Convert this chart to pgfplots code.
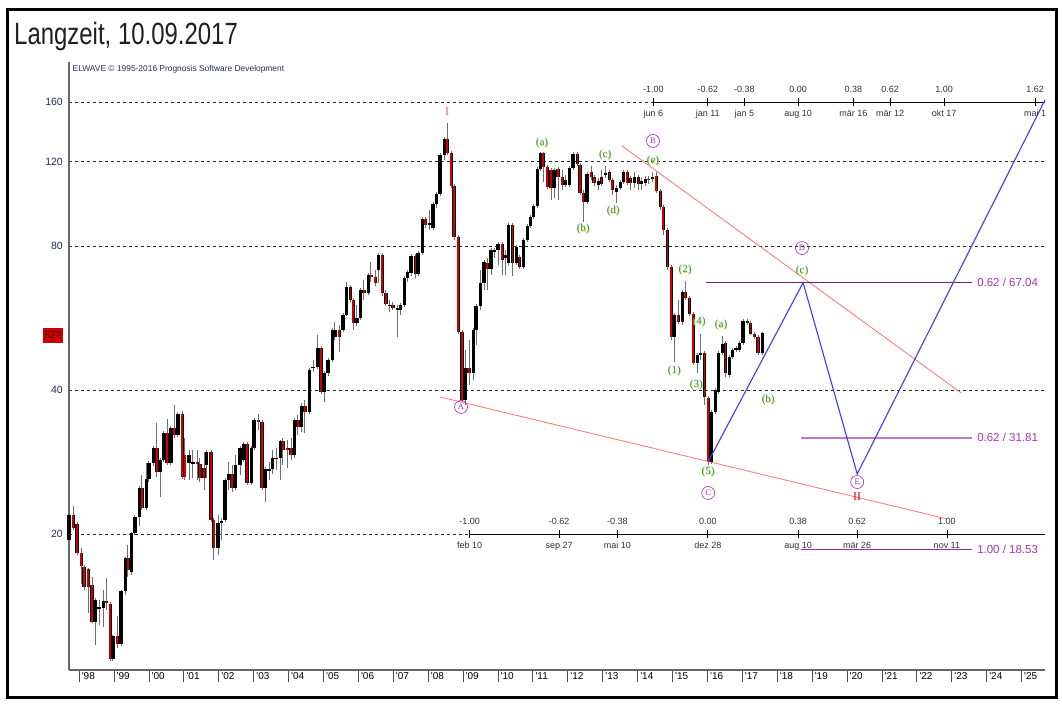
\documentclass[border=0pt]{standalone}
\usepackage{fontspec}
\setmainfont{Liberation Sans}
\setsansfont{Liberation Sans}
\newfontfamily\seriffont{Liberation Serif}
\usepackage{graphicx}
\usepackage{pgfplots}
\pgfplotsset{compat=1.18}
\usepackage{pgfplotstable}

\definecolor{navy}{RGB}{35,45,95}
\definecolor{wavegreen}{RGB}{40,150,85}
\definecolor{waveyellow}{RGB}{235,225,70}
\definecolor{circpurple}{RGB}{165,40,175}
\definecolor{levdark}{RGB}{110,30,110}
\definecolor{levlight}{RGB}{185,125,200}
\definecolor{levmid}{RGB}{145,45,155}
\definecolor{levtext}{RGB}{165,55,175}
\definecolor{chanred}{RGB}{255,115,115}
\definecolor{projblue}{RGB}{60,60,255}
\definecolor{candlered}{RGB}{205,0,0}
\definecolor{wickgray}{RGB}{110,110,110}

\pgfplotstableread{
t o h l c
1997.71 19.43 22.13 19.25 21.92
1997.83 21.92 22.89 20.39 20.59
1997.94 20.99 21.19 18.09 18.26
1998.06 18.26 18.70 15.73 17.15
1998.14 17.07 17.24 15.27 15.50
1998.26 16.90 16.95 13.67 15.50
1998.37 15.65 16.27 13.05 13.10
1998.46 13.10 14.70 11.72 14.56
1998.57 13.94 14.56 12.91 14.08
1998.69 14.01 15.27 12.79 14.49
1998.77 14.49 16.19 13.87 14.35
1998.89 14.28 14.42 10.85 10.95
1998.97 10.95 12.30 10.85 12.25
1999.09 12.25 13.48 11.55 11.77
1999.20 11.77 15.25 11.66 15.20
1999.32 15.20 17.90 14.92 17.83
1999.40 17.83 18.97 16.27 16.82
1999.49 16.66 20.15 16.42 20.10
1999.60 20.10 21.92 19.90 21.71
1999.72 21.71 25.20 20.79 24.96
1999.80 24.96 26.57 22.45 22.67
1999.92 22.67 28.14 22.45 26.06
2000.00 26.06 28.41 25.69 28.14
2000.12 28.14 30.55 27.75 30.26
2000.23 30.26 34.13 26.31 26.95
2000.32 26.95 28.83 23.90 28.55
2000.43 28.55 32.83 28.28 32.52
2000.52 32.52 34.79 27.88 28.14
2000.63 28.14 33.65 27.88 33.32
2000.72 33.32 37.22 31.75 32.21
2000.83 32.21 35.99 31.91 35.65
2000.95 35.65 36.16 26.06 26.31
2001.03 29.26 31.75 25.93 26.31
2001.15 28.14 29.96 25.93 29.26
2001.26 28.00 29.96 26.19 28.28
2001.38 28.28 29.96 25.93 28.00
2001.46 28.01 28.83 25.69 26.19
2001.58 27.48 29.68 24.72 26.19
2001.66 27.88 29.96 26.19 29.68
2001.78 29.68 29.96 21.19 21.39
2001.86 21.39 21.60 17.65 18.70
2001.98 18.70 21.92 18.09 21.09
2002.09 21.09 21.60 19.43 21.29
2002.18 21.39 26.19 21.19 25.93
2002.29 25.93 28.28 24.72 26.69
2002.38 26.69 27.88 24.48 24.96
2002.49 24.96 29.26 24.72 27.88
2002.61 27.88 30.55 26.57 30.26
2002.70 28.55 31.14 28.28 30.84
2002.81 30.84 31.14 25.33 25.57
2002.93 25.57 30.55 25.33 30.26
2003.01 30.26 34.96 29.96 34.62
2003.13 34.62 35.65 32.99 34.28
2003.24 34.28 34.62 24.72 24.96
2003.33 24.96 27.61 23.32 27.34
2003.44 27.08 28.28 25.93 27.34
2003.53 27.34 29.96 26.69 28.83
2003.64 28.69 30.26 27.21 28.83
2003.76 28.83 31.44 25.93 31.29
2003.84 31.29 31.75 27.88 29.96
2003.96 30.26 31.44 27.48 29.96
2004.07 30.26 31.75 28.55 29.26
2004.16 29.26 34.96 28.83 34.62
2004.27 34.62 35.47 32.21 33.48
2004.36 33.48 37.58 32.67 37.04
2004.47 37.04 38.12 32.52 35.98
2004.59 35.98 44.46 35.65 44.04
2004.70 44.46 46.22 43.62 44.68
2004.82 44.68 52.13 44.25 48.97
2004.93 48.97 49.44 39.24 39.62
2005.02 39.62 43.83 37.76 43.41
2005.13 43.41 46.67 42.78 46.22
2005.25 46.22 53.92 45.77 53.40
2005.33 51.63 55.50 50.89 53.40
2005.45 53.40 54.71 48.03 51.63
2005.56 53.40 57.96 52.89 57.40
2005.65 57.40 67.29 57.00 65.68
2005.77 65.68 66.32 61.10 61.69
2005.85 61.69 62.30 53.40 55.23
2005.96 55.23 60.22 54.45 56.58
2006.05 56.58 65.37 56.03 64.74
2006.16 64.74 67.93 61.69 63.81
2006.28 63.81 70.16 63.20 69.49
2006.36 69.49 74.07 67.29 68.82
2006.48 68.82 71.28 66.00 66.97
2006.57 71.28 77.38 66.97 76.64
2006.68 76.64 77.38 62.88 63.81
2006.79 63.81 64.74 59.93 60.51
2006.88 59.93 61.69 58.22 60.22
2006.99 60.22 61.10 58.79 59.36
2007.11 58.79 60.22 51.63 59.36
2007.20 58.79 60.80 57.40 60.22
2007.31 60.22 69.16 59.65 68.58
2007.40 68.58 71.28 67.29 70.60
2007.51 70.25 77.00 69.16 76.27
2007.63 76.27 77.00 68.58 69.83
2007.71 69.83 78.10 69.16 77.38
2007.83 77.38 92.00 76.64 91.12
2007.91 91.12 92.00 87.30 88.53
2008.03 88.53 95.15 86.42 89.38
2008.14 87.25 98.90 86.42 97.95
2008.23 97.95 103.76 96.09 102.77
2008.34 102.77 125.20 101.80 123.99
2008.46 123.99 135.20 121.04 133.90
2008.54 133.90 144.60 124.00 125.20
2008.66 125.20 126.40 105.80 106.80
2008.74 106.80 107.80 82.35 83.55
2008.86 83.55 84.35 52.38 52.89
2008.97 52.89 53.40 37.76 38.12
2009.06 38.12 48.50 37.22 44.46
2009.17 44.46 50.89 40.97 43.41
2009.29 43.41 53.92 41.97 53.40
2009.37 53.40 60.51 49.69 59.93
2009.49 59.93 71.28 58.79 66.97
2009.60 66.97 74.80 64.74 74.07
2009.69 73.71 75.53 64.74 71.63
2009.80 71.63 79.24 69.49 78.48
2009.89 77.73 79.24 75.53 78.48
2010.00 78.48 81.56 72.91 80.77
2010.12 80.77 81.56 69.49 74.80
2010.21 75.53 78.48 69.49 76.64
2010.29 73.71 89.38 72.91 88.53
2010.41 88.53 89.38 69.16 73.71
2010.52 73.71 80.39 72.91 79.62
2010.61 75.90 76.64 71.63 72.32
2010.72 72.32 83.15 71.63 82.35
2010.84 82.35 88.95 81.56 88.10
2010.92 88.10 92.90 87.25 92.00
2011.01 92.00 97.95 91.12 97.00
2011.12 97.00 117.00 96.09 115.90
2011.21 115.90 125.50 114.80 125.20
2011.29 125.20 125.50 108.90 117.00
2011.41 117.00 118.10 105.30 106.30
2011.52 115.35 116.50 99.84 105.80
2011.62 105.80 116.50 100.80 115.35
2011.72 115.90 117.00 99.84 111.50
2011.84 111.50 115.35 104.76 107.30
2011.92 107.30 112.60 106.30 109.93
2012.04 107.30 117.60 106.30 116.50
2012.15 116.50 125.80 115.35 124.60
2012.27 124.60 125.80 117.60 118.70
2012.35 118.10 119.30 102.30 103.30
2012.44 103.30 104.76 89.80 98.90
2012.55 98.90 114.20 97.95 113.10
2012.67 114.20 117.60 109.93 111.50
2012.75 111.50 112.60 106.80 108.40
2012.87 107.30 111.00 104.76 109.40
2012.96 111.50 115.35 106.80 107.80
2013.07 112.60 117.60 111.00 113.70
2013.19 114.20 115.35 108.90 109.93
2013.27 109.93 111.00 102.30 104.76
2013.39 103.80 107.30 98.40 105.80
2013.50 105.80 109.93 104.76 108.90
2013.59 108.90 115.35 107.80 114.20
2013.70 114.20 115.35 107.30 108.40
2013.79 111.00 112.00 104.76 108.40
2013.90 108.40 114.20 105.80 111.50
2014.02 111.50 112.60 104.76 107.80
2014.10 107.80 111.00 104.76 109.40
2014.22 108.40 112.00 106.80 110.50
2014.30 110.50 112.00 107.80 109.93
2014.42 110.50 114.20 108.90 111.50
2014.53 112.00 114.20 103.30 104.30
2014.65 104.30 105.30 95.15 96.50
2014.73 96.50 97.50 84.40 86.42
2014.85 86.42 87.30 71.28 72.32
2014.96 72.32 73.00 50.89 51.63
2015.05 51.63 57.96 45.77 57.40
2015.16 57.40 61.69 54.98 55.50
2015.28 55.50 64.74 54.71 64.12
2015.36 64.12 67.61 61.69 62.29
2015.48 62.29 62.90 57.12 57.68
2015.59 57.68 58.22 45.11 45.55
2015.71 45.55 47.80 43.41 47.35
2015.79 47.35 52.38 46.22 47.80
2015.91 47.80 48.27 37.22 38.68
2016.02 38.49 38.87 27.88 28.28
2016.11 28.28 36.33 28.01 35.98
2016.22 35.98 40.39 35.65 40.00
2016.31 39.62 48.27 39.24 47.80
2016.42 47.80 51.88 47.35 49.92
2016.51 50.16 50.64 42.57 43.41
2016.62 43.00 47.35 42.57 46.89
2016.71 46.89 48.97 46.44 48.50
2016.82 48.50 49.44 48.03 48.97
2016.91 48.50 50.64 48.03 50.16
2017.02 50.16 56.30 49.69 55.76
2017.14 55.76 56.30 54.71 55.23
2017.23 55.23 55.76 52.13 52.38
2017.34 52.38 52.89 51.13 51.63
2017.45 51.63 52.13 47.35 47.80
2017.57 47.80 52.89 47.35 52.63
}\candles

\pgfplotstablegetrowsof{\candles}
\pgfmathtruncatemacro\lastrow{\pgfplotsretval-1}
\gdef\wickpts{}\gdef\uppts{}\gdef\dnpts{}
\foreach \i in {0,...,\lastrow}{%
  \pgfplotstablegetelem{\i}{t}\of\candles\let\cT\pgfplotsretval
  \pgfplotstablegetelem{\i}{o}\of\candles\let\cO\pgfplotsretval
  \pgfplotstablegetelem{\i}{h}\of\candles\let\cH\pgfplotsretval
  \pgfplotstablegetelem{\i}{l}\of\candles\let\cL\pgfplotsretval
  \pgfplotstablegetelem{\i}{c}\of\candles\let\cC\pgfplotsretval
  \xdef\wickpts{\wickpts(\cT,\cL)(\cT,\cH)(\cT,nan)}%
  \ifdim\cC pt<\cO pt
    \xdef\dnpts{\dnpts(\cT,\cO)(\cT,\cC)(\cT,nan)}%
  \else
    \xdef\uppts{\uppts(\cT,\cO)(\cT,\cC)(\cT,nan)}%
  \fi
}

\newcommand\wavefont{\seriffont\fontsize{11}{11}\selectfont}
\newcommand\rfont{\fontsize{9}{9}\selectfont}
\newcommand\wlab[3]{%
  \node[text=waveyellow, font=\wavefont, inner sep=0pt] at (axis cs:#1,#2) [xshift=0.6pt, yshift=-0.6pt] {(#3)};
  \node[text=wavegreen, font=\wavefont, inner sep=0pt] at (axis cs:#1,#2) {(#3)};}
\newcommand\clab[3]{%
  \node[circle, draw=circpurple, text=circpurple, line width=0.6pt, inner sep=0pt, minimum size=13pt, font=\seriffont\fontsize{8.5}{8.5}\selectfont] at (axis cs:#1,#2) {#3};}
\newcommand\rtop[3]{%
  \node[anchor=south, inner sep=0pt, yshift=9pt, font=\rfont, text=black!80] at (axis cs:#1,160) {#2};
  \node[anchor=north, inner sep=0pt, yshift=-8pt, font=\rfont, text=black!80] at (axis cs:#1,160) {#3};}
\newcommand\rbot[3]{%
  \node[anchor=south, inner sep=0pt, yshift=9pt, font=\rfont, text=black!80] at (axis cs:#1,20) {#2};
  \node[anchor=north, inner sep=0pt, yshift=-8pt, font=\rfont, text=black!80] at (axis cs:#1,20) {#3};}

\begin{document}
\begin{tikzpicture}
\fill[white] (0,0) rectangle (1062pt,706pt);
\path[use as bounding box] (0,0) rectangle (1062pt,706pt);
\begin{axis}[
  at={(69pt,36pt)}, anchor=south west,
  scale only axis, width=976pt, height=608pt,
  xmin=1997.71, xmax=2025.67,
  ymode=log, ymin=10.39, ymax=194,
  axis x line*=bottom, axis y line*=left,
  axis line style={-, draw=black!60, line width=1.2pt},
  xtick={1998,...,2025},
  xticklabels={\textquotesingle98,\textquotesingle99,\textquotesingle00,\textquotesingle01,\textquotesingle02,\textquotesingle03,\textquotesingle04,\textquotesingle05,\textquotesingle06,\textquotesingle07,\textquotesingle08,\textquotesingle09,\textquotesingle10,\textquotesingle11,\textquotesingle12,\textquotesingle13,\textquotesingle14,\textquotesingle15,\textquotesingle16,\textquotesingle17,\textquotesingle18,\textquotesingle19,\textquotesingle20,\textquotesingle21,\textquotesingle22,\textquotesingle23,\textquotesingle24,\textquotesingle25},
  minor x tick num=11,
  tick align=outside,
  major tick length=12pt, minor tick length=3pt,
  xtick style={draw=black!70, line width=0.8pt},
  minor tick style={draw=black!50, line width=0.6pt},
  xticklabel style={anchor=north west, inner sep=0pt, xshift=2.5pt, yshift=10pt, font=\fontsize{10}{10}\selectfont},
  ytick={20,40,80,120,160},
  yticklabels={20,40,80,120,160},
  yminorticks=false,
  ytick style={draw=none},
  yticklabel style={anchor=east, inner sep=0pt, xshift=6pt, font=\fontsize{10.5}{10.5}\selectfont, text=navy},
  ymajorgrids,
  major grid style={black!85, line width=0.8pt, dash pattern=on 3pt off 3pt},
  clip=false,
  unbounded coords=jump,
]
% candles
\edef\temp{\noexpand\addplot[wickgray, line width=1pt, forget plot] coordinates {\wickpts};}\temp
\edef\temp{\noexpand\addplot[black, line width=3.2pt, line cap=butt, forget plot] coordinates {\uppts};}\temp
\edef\temp{\noexpand\addplot[black, line width=3.2pt, line cap=butt, forget plot] coordinates {\dnpts};}\temp
\edef\temp{\noexpand\addplot[candlered, line width=1.5pt, line cap=butt, forget plot] coordinates {\dnpts};}\temp

% Fibonacci time rulers
\addplot[black, line width=0.8pt] coordinates {(2014.45,160) (2025.67,160)};
\addplot[only marks, mark=|, mark size=4pt, mark options={line width=0.8pt, black}] coordinates {(2014.45,160) (2016.01,160) (2017.06,160) (2018.60,160) (2020.18,160) (2021.23,160) (2022.78,160) (2025.39,160)};
\addplot[black, line width=0.8pt] coordinates {(2009.19,20) (2025.67,20)};
\addplot[only marks, mark=|, mark size=4pt, mark options={line width=0.8pt, black}] coordinates {(2009.19,20) (2011.75,20) (2013.42,20) (2016.01,20) (2018.60,20) (2020.29,20) (2022.86,20)};

% channel lines
\addplot[chanred, line width=0.8pt] coordinates {(2008.34,38.68) (2022.86,21.50)};
\addplot[chanred, line width=0.8pt] coordinates {(2013.55,129.5) (2023.27,39.43)};

% price levels
\addplot[levdark, line width=1pt] coordinates {(2015.96,67.04) (2023.58,67.04)};
\addplot[levlight, line width=2pt] coordinates {(2018.68,31.81) (2023.58,31.81)};
\addplot[levmid, line width=1.3pt] coordinates {(2018.68,18.53) (2023.58,18.53)};

% projection
\addplot[projblue, line width=1.1pt] coordinates {(2016.02,28.3) (2018.74,67.04) (2020.29,26.69) (2025.67,161.6)};

\node[anchor=west, inner sep=0pt, xshift=5pt, text=levtext, font=\fontsize{11.5}{11.5}\selectfont] at (axis cs:2023.58,67.04) {0.62 / 67.04};
\node[anchor=west, inner sep=0pt, xshift=5pt, text=levtext, font=\fontsize{11.5}{11.5}\selectfont] at (axis cs:2023.58,31.81) {0.62 / 31.81};
\node[anchor=west, inner sep=0pt, xshift=5pt, text=levtext, font=\fontsize{11.5}{11.5}\selectfont] at (axis cs:2023.58,18.53) {1.00 / 18.53};

\rtop{2014.45}{-1.00}{jun 6}
\rtop{2016.01}{-0.62}{jan 11}
\rtop{2017.06}{-0.38}{jan 5}
\rtop{2018.60}{0.00}{aug 10}
\rtop{2020.18}{0.38}{mär 16}
\rtop{2021.23}{0.62}{mär 12}
\rtop{2022.78}{1.00}{okt 17}
\rtop{2025.39}{1.62}{mai 1}
\rbot{2009.19}{-1.00}{feb 10}
\rbot{2011.75}{-0.62}{sep 27}
\rbot{2013.42}{-0.38}{mai 10}
\rbot{2016.01}{0.00}{dez 28}
\rbot{2018.60}{0.38}{aug 10}
\rbot{2020.29}{0.62}{mär 26}
\rbot{2022.86}{1.00}{nov 11}

% wave labels
\node[text={rgb,255:red,235;green,95;blue,95}, font=\seriffont\fontsize{12}{12}\selectfont, inner sep=0pt] at (axis cs:2008.54,152.5) {I};
\node[text={rgb,255:red,240;green,0;blue,0}, font=\seriffont\fontsize{12}{12}\selectfont, inner sep=0pt] at (axis cs:2020.29,23.9) {II};
\clab{2008.94}{36.86}{A}
\clab{2014.44}{132.6}{B}
\clab{2016.02}{24.36}{C}
\clab{2018.71}{79.2}{D}
\clab{2020.29}{25.68}{E}
\wlab{2011.26}{131.3}{a}
\wlab{2012.44}{86.8}{b}
\wlab{2013.07}{124.0}{c}
\wlab{2013.30}{94.7}{d}
\wlab{2014.44}{120.4}{e}
\wlab{2015.36}{71.28}{2}
\wlab{2015.76}{55.5}{4}
\wlab{2015.05}{43.83}{1}
\wlab{2015.68}{40.97}{3}
\wlab{2016.02}{26.95}{5}
\wlab{2016.39}{54.71}{a}
\wlab{2017.74}{38.12}{b}
\wlab{2018.71}{70.94}{c}

% current price tag
\node[anchor=east, xshift=-6pt, fill=candlered, inner xsep=1.5pt, minimum height=15pt, text={rgb,255:red,70;green,0;blue,0}, font=\fontsize{10}{10}\selectfont] at (axis cs:1997.71,52) {52?};
\end{axis}

\node[anchor=base west, inner sep=0pt, text={rgb,255:red,30;green,32;blue,38}] at (14pt,661pt) {\scalebox{0.78}[1]{\fontsize{30.7}{34}\selectfont Langzeit, 10.09.2017}};
\node[anchor=base west, inner sep=0pt, text=navy, font=\fontsize{8.4}{9}\selectfont] at (72.5pt,634pt) {ELWAVE © 1995-2016 Prognosis Software Development};
\draw[black, line width=3.5pt] (7.5pt,8.5pt) rectangle (1056.5pt,696.5pt);
\end{tikzpicture}
\end{document}
